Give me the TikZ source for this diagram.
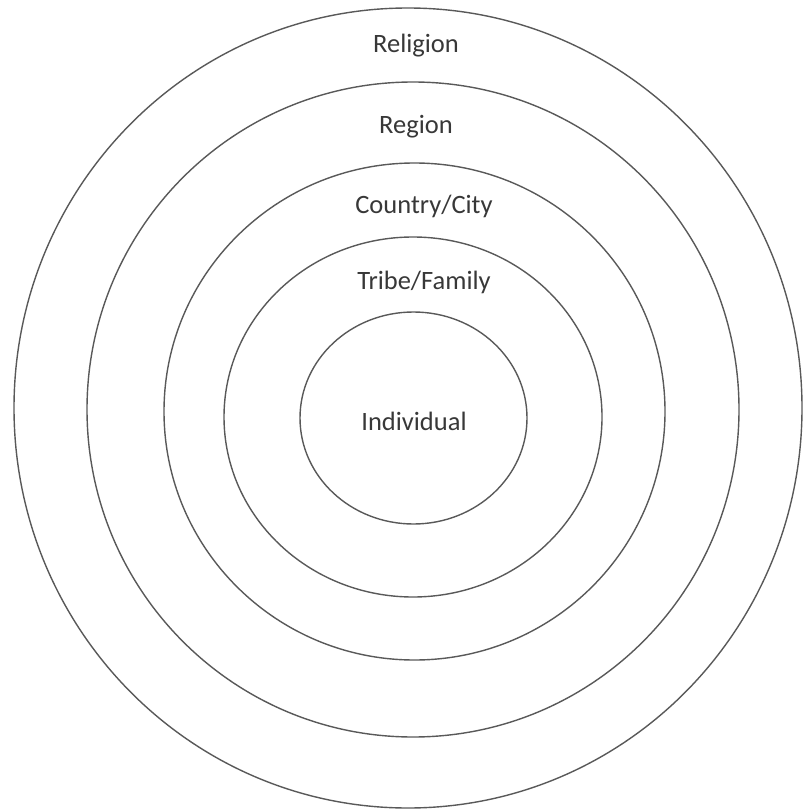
\documentclass[tikz,border=0pt]{standalone}
\usepackage{fontspec}
\setmainfont{Carlito}
\begin{document}
\begin{tikzpicture}[x=1pt,y=-1pt,
  ring/.style={draw=black!65,line width=1.4pt},
  lbl/.style={text=black!78,font=\fontsize{26.5}{30}\selectfont,inner sep=0pt,anchor=base}]
\useasboundingbox (0,0) rectangle (803,810);
\draw[ring] (408,408) ellipse [x radius=394,y radius=400];
\draw[ring] (413,409.5) ellipse [x radius=326,y radius=327.5];
\draw[ring] (414.5,411.5) ellipse [x radius=250.5,y radius=248.5];
\draw[ring] (413,417) ellipse [x radius=189,y radius=180];
\draw[ring] (413.5,418) ellipse [x radius=113.5,y radius=106];
\node[lbl] (religion) at (416,53) {Religion};
\node[lbl] (region) at (416,134) {Region};
\node[lbl] (country) at (424,214) {Country/City};
\node[lbl] (tribe) at (424,289) {Tribe/Family};
\node[lbl] (indiv) at (414,430) {Individual};
\end{tikzpicture}
\end{document}
